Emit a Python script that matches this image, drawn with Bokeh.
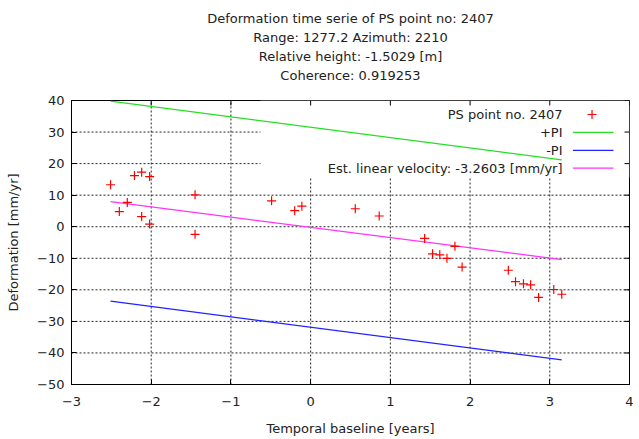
import math
from bokeh.plotting import figure
from bokeh.models import FixedTicker, Range1d, Title, LinearAxis
from bokeh.core.properties import value
from bokeh.embed import file_html
from bokeh.resources import INLINE

# ---- data ----
title_lines = [
    "Deformation time serie of PS point no: 2407",
    "Range: 1277.2 Azimuth: 2210",
    "Relative height: -1.5029 [m]",
    "Coherence: 0.919253",
]
x_ticks = [-3, -2, -1, 0, 1, 2, 3, 4]
y_ticks = [-50, -40, -30, -20, -10, 0, 10, 20, 30, 40]

time_years = [-2.51, -2.40, -2.30, -2.21, -2.12, -2.12, -2.02, -2.02, -1.45, -1.45,
              -0.49, -0.20, -0.11, 0.56, 0.86, 1.43, 1.53, 1.62, 1.71, 1.81,
              1.90, 2.48, 2.57, 2.67, 2.76, 2.86, 3.05, 3.15]
deformation = [13.3, 4.8, 7.7, 16.2, 17.3, 3.2, 15.9, 0.85, 10.1, -2.4,
               8.2, 5.1, 6.5, 5.7, 3.4, -3.7, -8.6, -8.9, -10.0, -6.2,
               -12.8, -13.8, -17.4, -18.1, -18.4, -22.4, -19.9, -21.4]

line_x = [-2.51, 3.15]
plus_pi = [39.8, 21.2]
minus_pi = [-23.6, -42.2]
est_velocity = [7.95, -10.4]

legend_labels = ["PS point no. 2407", "+PI", "-PI", "Est. linear velocity: -3.2603 [mm/yr]"]

FONT = "DejaVu Sans"
FS = "13px"
TXT = "#222222"
GREEN = "#22e022"
BLUE = "#2222ff"
PINK = "#ff33ff"

p = figure(width=639, height=439, x_range=Range1d(-3, 4), y_range=Range1d(-50, 40),
           output_backend="svg", toolbar_location=None, title=None,
           min_border_left=71, min_border_right=10, min_border_top=100, min_border_bottom=55)
p.grid.visible = False
p.outline_line_color = "black"
p.background_fill_color = "white"
p.border_fill_color = "white"

xax = p.below[0]
yax = p.left[0]

def style_axis(ax):
    ax.axis_line_color = "black"
    ax.major_tick_line_color = "black"
    ax.major_tick_in = 5
    ax.major_tick_out = 0
    ax.minor_tick_line_color = None
    ax.major_label_text_font = FONT
    ax.major_label_text_font_size = FS
    ax.major_label_text_color = TXT
    ax.axis_label_text_font = FONT
    ax.axis_label_text_font_size = FS
    ax.axis_label_text_font_style = "normal"
    ax.axis_label_text_color = TXT

xax.ticker = FixedTicker(ticks=x_ticks)
yax.ticker = FixedTicker(ticks=y_ticks)
xax.axis_label = "Temporal baseline [years]"
yax.axis_label = "Deformation [mm/yr]"
style_axis(xax)
style_axis(yax)
xax.major_label_standoff = 12
yax.major_label_standoff = 7
xax.axis_label_standoff = 12
yax.axis_label_standoff = 13

# last title line: label of a tick-less axis above the frame, so it can stand off
top_line = LinearAxis(ticker=FixedTicker(ticks=[]), axis_label=title_lines[-1])
style_axis(top_line)
top_line.axis_line_color = None
top_line.major_tick_line_color = None
top_line.major_tick_in = 0
top_line.axis_label_standoff = 18
p.add_layout(top_line, "above")

# other title lines, closest to the frame first
for text in reversed(title_lines[:-1]):
    p.add_layout(Title(text=text, align="center", text_font=FONT, text_font_size=FS,
                       text_font_style="normal", text_color=TXT, standoff=2), "above")

# grid lines (dashed), drawn as glyphs so the key box can hide them
gx = x_ticks[1:-1]
gy = y_ticks[1:-1]
p.segment(x0=gx, x1=gx, y0=[y_ticks[0]] * len(gx), y1=[y_ticks[-1]] * len(gx),
          line_color="black", line_width=1, line_dash="2 2", line_alpha=0.85)
p.segment(x0=[x_ticks[0]] * len(gy), x1=[x_ticks[-1]] * len(gy), y0=gy, y1=gy,
          line_color="black", line_width=1, line_dash="2 2", line_alpha=0.85)

# opaque key box
p.quad(left=[-0.63], right=[4], bottom=[15.6], top=[40], fill_color="white", line_color=None)

# mirrored tick marks on top and right borders
p.ray(x=x_ticks, y=[y_ticks[-1]] * len(x_ticks), length=5, length_units="screen",
      angle=-math.pi / 2, line_color="black", line_width=1)
p.ray(x=[x_ticks[-1]] * len(y_ticks), y=y_ticks, length=5, length_units="screen",
      angle=math.pi, line_color="black", line_width=1)

p.line(line_x, plus_pi, line_color=GREEN, line_width=1.3)
p.line(line_x, minus_pi, line_color=BLUE, line_width=1.3)
p.line(line_x, est_velocity, line_color=PINK, line_width=1.3)
p.scatter(time_years, deformation, marker="cross", size=9, line_color="red", line_width=1.2)

# key (text left, sample right, as in the reference)
row_y = [35.56, 29.9, 24.2, 18.6]
p.text(x=[3.16] * 4, y=row_y, text=legend_labels, text_align="right", text_baseline="middle",
       text_font=value(FONT), text_font_size=FS, text_color=TXT)
p.scatter([3.53], [row_y[0]], marker="cross", size=9, line_color="red", line_width=1.2)
for yy, col in zip(row_y[1:], [GREEN, BLUE, PINK]):
    p.line([3.29, 3.80], [yy, yy], line_color=col, line_width=1.3)

open("out.html", "w").write(file_html(p, INLINE))
